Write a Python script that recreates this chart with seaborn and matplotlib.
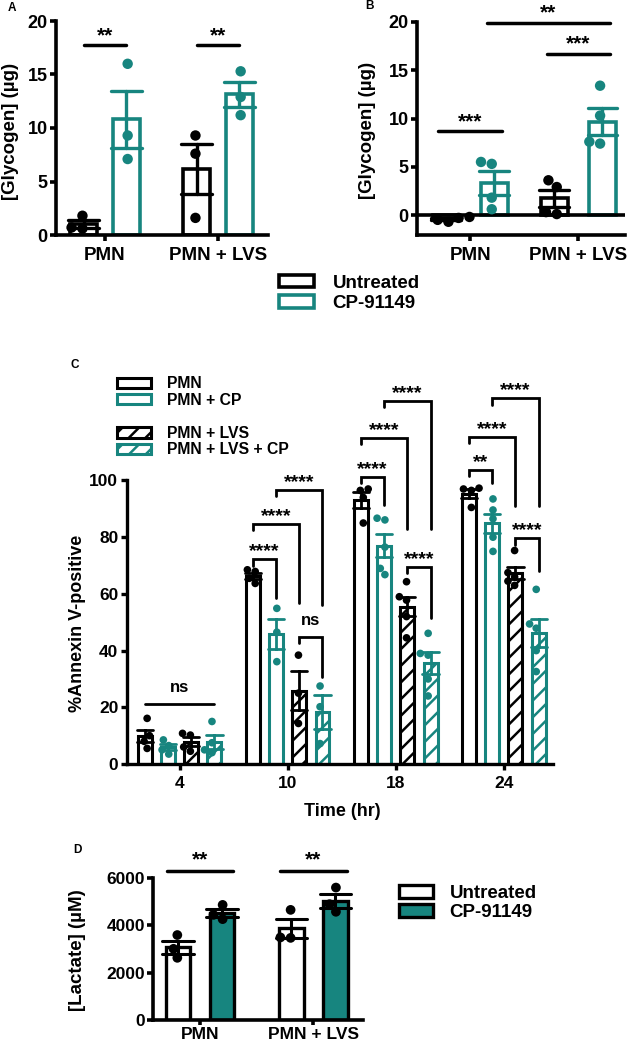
import numpy as np
import pandas as pd
import matplotlib
matplotlib.use("Agg")
import matplotlib.pyplot as plt
from matplotlib.patches import Patch
import seaborn as sns

# ---------------- data ----------------
ab_groups = ["PMN", "PMN + LVS"]
ab_series = ["Untreated", "CP-91149"]

# Panel A: glycogen (ug)
a_untreated = [[1.8, 0.7, 0.6], [9.3, 7.6, 1.6]]
a_cp = [[16.0, 9.3, 7.1], [15.3, 12.9, 11.2]]

# Panel B: glycogen (ug)
b_untreated = [[-0.2, -0.7, -0.5, -0.3], [3.6, 2.9, 0.3, 0.1]]
b_cp = [[5.5, 5.3, 1.8, 0.6], [13.4, 10.3, 7.6, 7.4]]

# Panel C: % Annexin V-positive per time point (4, 10, 18, 24 h)
c_times = ["4", "10", "18", "24"]
c_series = ["PMN", "PMN + CP", "PMN + LVS", "PMN + LVS + CP"]
c_pmn = [[16.1, 10.0, 8.0, 5.5], [68.5, 67.9, 65.5, 63.7],
         [97.0, 96.5, 94.0, 85.0], [97.3, 97.0, 96.5, 90.5]]
c_cp = [[8.5, 6.5, 5.0, 3.5], [54.9, 46.5, 36.1],
        [86.7, 86.1, 76.5, 69.0, 66.8], [93.5, 89.6, 86.5, 80.0, 75.0]]
c_lvs = [[10.8, 10.2, 6.0, 4.5], [38.4, 25.0, 14.3],
         [64.3, 59.0, 57.8, 52.0, 44.5], [75.3, 67.5, 66.0, 64.5, 63.0]]
c_lvscp = [[15.0, 7.5, 5.0, 4.0], [27.5, 20.2, 7.2],
           [46.1, 39.0, 38.4, 30.0, 24.0], [61.6, 49.4, 47.9, 40.0, 32.6]]

# Panel D: lactate (uM)
d_untreated = [[3580, 3000, 2620], [4640, 3460, 3480]]
d_cp = [[4850, 4430, 4250], [5580, 4880, 4560]]

# significance annotations
a_sig = [(0, 17.8, "**"), (1, 17.8, "**")]
b_sig = [((0, 0), (0, 1), 8.7, "***"), ((1, 0), (1, 1), 16.7, "***"),
         ((0, 1), (1, 1), 19.9, "**")]
c_sig = [(0, 0, 3, 21.1, None, "ns"),
         (1, 0, 1, 72.2, 58.5, "****"), (1, 0, 2, 84.7, 56.7, "****"),
         (1, 1, 3, 96.6, 56.1, "****"), (1, 2, 3, 44.9, 30.8, "ns"),
         (2, 0, 1, 101.4, 91.4, "****"), (2, 0, 2, 114.9, 82.8, "****"),
         (2, 1, 3, 128.0, 82.8, "****"), (2, 2, 3, 69.6, 51.4, "****"),
         (3, 0, 1, 103.7, 99.0, "**"), (3, 0, 2, 115.5, 91.0, "****"),
         (3, 1, 3, 129.0, 91.0, "****"), (3, 2, 3, 79.6, 68.0, "****")]
d_sig = [(0, 6280, "**"), (1, 6280, "**")]

# ---------------- style ----------------
TEAL = "#17857f"
sns.set_theme(style="ticks")
plt.rcParams.update({
    "font.family": ["Liberation Sans", "DejaVu Sans"],
    "font.weight": "bold",
    "axes.labelweight": "bold",
    "hatch.linewidth": 1.8,
    "axes.edgecolor": "black",
    "xtick.color": "black",
    "ytick.color": "black",
    "text.color": "black",
})

W, H = 631, 1047
fig = plt.figure(figsize=(W / 100, H / 100), dpi=100)
fig.patch.set_facecolor("white")


def add_axes(l, r, b, t):
    return fig.add_axes([l / W, 1 - b / H, (r - l) / W, (b - t) / H])


def to_long(groups, series, values):
    rows = []
    for s, name in enumerate(series):
        for g, grp in enumerate(groups):
            for v in values[s][g]:
                rows.append({"group": grp, "series": name, "value": v})
    return pd.DataFrame(rows)


def style_axes(ax, lw, tick_fs, xtick_fs, xpad=4, xlen=4.5):
    sns.despine(ax=ax)
    for side in ("left", "bottom"):
        ax.spines[side].set_linewidth(lw)
        ax.spines[side].set_color("black")
    ax.tick_params(axis="both", width=lw, length=4.5, color="black")
    ax.tick_params(axis="y", labelsize=tick_fs, pad=1.5)
    ax.tick_params(axis="x", labelsize=xtick_fs, pad=xpad, length=xlen)
    for lab in ax.get_xticklabels() + ax.get_yticklabels():
        lab.set_fontweight("bold")
    ax.set_xlabel("")
    ax.set_ylabel("")
    ax.set_facecolor("none")


def offsets(width, n):
    return (np.arange(n) - (n - 1) / 2) * width / n


# ---------------- Panel A ----------------
axA = add_axes(56, 268, 235, 21)
dfA = to_long(ab_groups, ab_series, [a_untreated, a_cp])
A_W, A_GAP = 0.752, 0.36
sns.barplot(data=dfA, x="group", y="value", hue="series", order=ab_groups,
            hue_order=ab_series, palette=["black", TEAL], errorbar="se",
            capsize=0.55, width=A_W, gap=A_GAP, fill=False, linewidth=2.6,
            saturation=1, err_kws={"linewidth": 2.4}, legend=False, ax=axA)
sns.swarmplot(data=dfA, x="group", y="value", hue="series", order=ab_groups,
              hue_order=ab_series, palette=["black", TEAL], dodge=True, size=7.5,
              legend=False, ax=axA, zorder=3)
axA.set_ylim(0, 20)
axA.set_xlim(-0.434, 1.442)
axA.set_yticks([0, 5, 10, 15, 20])
style_axes(axA, 2.6, 13, 13.5)
offA = offsets(A_W, 2)
for g, y, lab in a_sig:
    x0, x1 = g + offA[0], g + offA[1]
    axA.plot([x0, x1], [y, y], color="black", lw=2.5, clip_on=False)
    axA.annotate(lab, ((x0 + x1) / 2, y), xytext=(0, 2.5), textcoords="offset points",
                 ha="center", va="baseline", fontsize=15, fontweight="bold",
                 annotation_clip=False)

# ---------------- Panel B ----------------
axB = add_axes(417, 625, 235, 22)
dfB = to_long(ab_groups, ab_series, [b_untreated, b_cp])
B_W, B_GAP = 0.889, 0.44
sns.barplot(data=dfB, x="group", y="value", hue="series", order=ab_groups,
            hue_order=ab_series, palette=["black", TEAL], errorbar="se",
            capsize=0.55, width=B_W, gap=B_GAP, fill=False, linewidth=2.6,
            saturation=1, err_kws={"linewidth": 2.4}, legend=False, ax=axB)
sns.swarmplot(data=dfB, x="group", y="value", hue="series", order=ab_groups,
              hue_order=ab_series, palette=["black", TEAL], dodge=True, size=7.5,
              legend=False, ax=axB, zorder=3)
axB.set_ylim(-2.07, 20)
axB.set_xlim(-0.49, 1.43)
axB.set_yticks([0, 5, 10, 15, 20])
axB.axhline(0, color="black", lw=2.6, zorder=2.5)
style_axes(axB, 2.6, 13, 13.5)
offB = offsets(B_W, 2)
for (g0, s0), (g1, s1), y, lab in b_sig:
    x0, x1 = g0 + offB[s0] - 0.07, g1 + offB[s1] + 0.07
    axB.plot([x0, x1], [y, y], color="black", lw=2.5, clip_on=False)
    axB.annotate(lab, ((x0 + x1) / 2, y), xytext=(0, 3), textcoords="offset points",
                 ha="center", va="baseline", fontsize=15, fontweight="bold",
                 annotation_clip=False)

# A/B legend
legAB = fig.legend(handles=[Patch(facecolor="white", edgecolor="black", lw=2.6),
                            Patch(facecolor="white", edgecolor=TEAL, lw=2.6)],
                   labels=ab_series, loc="center left",
                   bbox_to_anchor=(279 / W, 1 - 293.5 / H), frameon=False,
                   handlelength=1.85, handleheight=0.65,
                   handletextpad=1.0, labelspacing=0.18, borderpad=0,
                   borderaxespad=0, prop={"weight": "bold", "size": 13.5})

# ---------------- Panel C ----------------
axC = add_axes(126.7, 553.3, 764, 375.6)
dfC = to_long(c_times, c_series, [c_pmn, c_cp, c_lvs, c_lvscp])
C_W, C_GAP = 0.86, 0.4
c_colors = ["black", TEAL, "black", TEAL]
sns.barplot(data=dfC, x="group", y="value", hue="series", order=c_times,
            hue_order=c_series, palette=c_colors, errorbar="se", capsize=0.6,
            width=C_W, gap=C_GAP, fill=False, linewidth=2.2, saturation=1,
            err_kws={"linewidth": 2.0}, legend=False, ax=axC)
offC = offsets(C_W, 4)
for p in axC.patches:
    cx = p.get_x() + p.get_width() / 2
    k = int(np.argmin(np.abs(offC - (cx - round(cx)))))
    if k >= 2:
        p.set_hatch("//")
sns.swarmplot(data=dfC, x="group", y="value", hue="series", order=c_times,
              hue_order=c_series, palette=c_colors, dodge=True, size=5.5,
              legend=False, ax=axC, zorder=3)
axC.set_ylim(0, 137)
axC.set_xlim(-0.489, 3.458)
axC.set_yticks([0, 20, 40, 60, 80, 100])
axC.spines["left"].set_bounds(0, 100)
style_axes(axC, 2.4, 12.5, 12.5)
for g, i, j, y, ybot, lab in c_sig:
    xi, xj = g + offC[i], g + offC[j]
    if ybot is None:
        axC.plot([xi, xj], [y, y], color="black", lw=2.0, clip_on=False)
    else:
        axC.plot([xi, xi, xj, xj], [y - 2.2, y, y, ybot], color="black", lw=2.0,
                 clip_on=False, solid_joinstyle="miter")
    is_ns = lab == "ns"
    axC.annotate(lab, ((xi + xj) / 2, y), xytext=(0, 8.5 if is_ns else 2),
                 textcoords="offset points", ha="center", va="baseline",
                 fontsize=12 if is_ns else 14, fontweight="bold",
                 annotation_clip=False)

hatches = [None, None, "//", "//"]
h1 = [Patch(facecolor="white", edgecolor=c_colors[k], lw=2.2, hatch=hatches[k]) for k in (0, 1)]
h2 = [Patch(facecolor="white", edgecolor=c_colors[k], lw=2.2, hatch=hatches[k]) for k in (2, 3)]
legC1 = fig.legend(handles=h1, labels=c_series[:2], loc="center left",
                   bbox_to_anchor=(117 / W, 1 - 392 / H), frameon=False,
                   handlelength=2.15, handleheight=0.65, handletextpad=1.05,
                   labelspacing=0.08, borderpad=0, borderaxespad=0,
                   prop={"weight": "bold", "size": 11.3})
legC2 = fig.legend(handles=h2, labels=c_series[2:], loc="center left",
                   bbox_to_anchor=(117 / W, 1 - 441.7 / H), frameon=False,
                   handlelength=2.15, handleheight=0.65, handletextpad=1.05,
                   labelspacing=0.08, borderpad=0, borderaxespad=0,
                   prop={"weight": "bold", "size": 11.3})

# ---------------- Panel D ----------------
axD = add_axes(153.3, 363, 1020, 842)
dfD = to_long(ab_groups, ab_series, [d_untreated, d_cp])
D_W, D_GAP = 0.777, 0.44
sns.barplot(data=dfD, x="group", y="value", hue="series", order=ab_groups,
            hue_order=ab_series, palette=["white", TEAL], errorbar="se",
            capsize=0.55, width=D_W, gap=D_GAP, linewidth=2.4, saturation=1,
            err_kws={"linewidth": 2.2, "color": "black"}, legend=False, ax=axD)
for p in axD.patches:
    p.set_edgecolor("black")
    p.set_linewidth(2.4)
sns.swarmplot(data=dfD, x="group", y="value", hue="series", order=ab_groups,
              hue_order=ab_series, palette=["black", "black"], dodge=True, size=7,
              legend=False, ax=axD, zorder=3)
axD.set_ylim(0, 7500)
axD.set_xlim(-0.412, 1.439)
axD.set_yticks([0, 2000, 4000, 6000])
axD.spines["left"].set_bounds(0, 6000)
style_axes(axD, 2.6, 12.5, 12.5, xpad=1.5, xlen=3.5)
offD = offsets(D_W, 2)
for g, y, lab in d_sig:
    x0, x1 = g + offD[0] - 0.1, g + offD[1] + 0.1
    axD.plot([x0, x1], [y, y], color="black", lw=2.5, clip_on=False)
    axD.annotate(lab, ((x0 + x1) / 2, y), xytext=(0, 4), textcoords="offset points",
                 ha="center", va="baseline", fontsize=15, fontweight="bold",
                 annotation_clip=False)

legD = fig.legend(handles=[Patch(facecolor="white", edgecolor="black", lw=2.4),
                           Patch(facecolor=TEAL, edgecolor="black", lw=2.4)],
                  labels=ab_series, loc="center left",
                  bbox_to_anchor=(399 / W, 1 - 903.3 / H), frameon=False,
                  handlelength=1.8, handleheight=0.7, handletextpad=0.9,
                  labelspacing=0.1, borderpad=0, borderaxespad=0,
                  prop={"weight": "bold", "size": 13.5})

# ---------------- labels ----------------
def ftext(x, y, s, **kw):
    fig.text(x / W, 1 - y / H, s, fontweight="bold", **kw)

ftext(11, 131, "[Glycogen] (µg)", rotation=90, ha="center", va="center", fontsize=13.5)
ftext(368, 130, "[Glycogen] (µg)", rotation=90, ha="center", va="center", fontsize=13.5)
ftext(78, 623, "%Annexin V-positive", rotation=90, ha="center", va="center", fontsize=13)
ftext(342, 812, "Time (hr)", ha="center", va="center", fontsize=13)
ftext(77, 950, "[Lactate] (µM)", rotation=90, ha="center", va="center", fontsize=13.5)

ftext(12, 8, "A", ha="center", va="center", fontsize=8.5)
ftext(370, 6, "B", ha="center", va="center", fontsize=8.5)
ftext(75, 365, "C", ha="center", va="center", fontsize=8.5)
ftext(77, 850, "D", ha="center", va="center", fontsize=8.5)

fig.savefig("out.png", dpi=100, facecolor="white")
